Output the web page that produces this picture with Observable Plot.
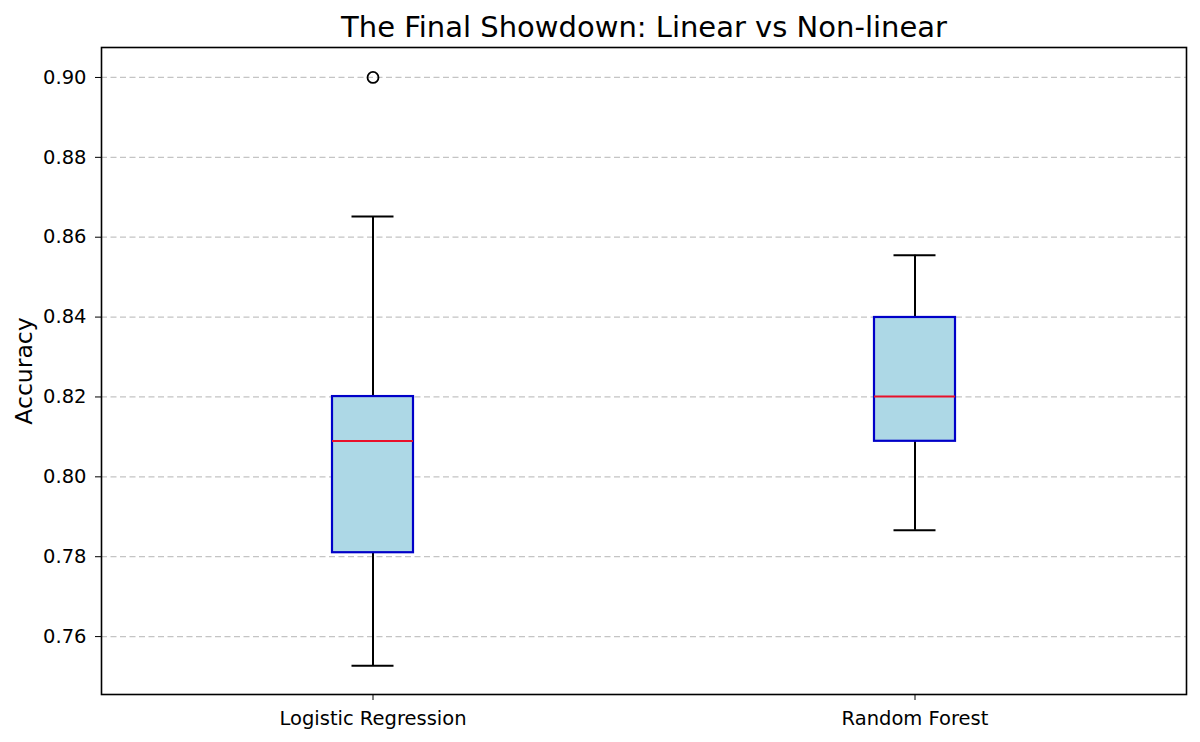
<!DOCTYPE html>
<html>
<head>
<meta charset="utf-8">
<script src="https://cdn.jsdelivr.net/npm/d3@7"></script>
<script src="https://cdn.jsdelivr.net/npm/@observablehq/plot@0.6"></script>
<style>
  html, body { margin: 0; padding: 0; background: #fff; }
  #chart { width: 1200px; height: 742px; }
</style>
</head>
<body>
<div id="chart"></div>
<script>
// Cross-validation accuracy summary for the two models
const models = ["Logistic Regression", "Random Forest"];
const whiskerLow = [0.7527, 0.7866];
const q1 = [0.7810, 0.8089];
const median = [0.8090, 0.8201];
const q3 = [0.8201, 0.8399];
const whiskerHigh = [0.8652, 0.8555];

// Points beyond the whiskers
const outlierModels = ["Logistic Regression"];
const outlierValues = [0.900];

const yTicks = [0.76, 0.78, 0.80, 0.82, 0.84, 0.86, 0.88, 0.90];

const boxes = models.map((m, i) => ({
  model: m, lo: whiskerLow[i], q1: q1[i], med: median[i], q3: q3[i], hi: whiskerHigh[i]
}));
const outliers = outlierModels.map((m, i) => ({ model: m, value: outlierValues[i] }));

const font = "DejaVu Sans, sans-serif";
const fmt = d3.format(".2f");

const chart = Plot.plot({
  width: 1200,
  height: 742,
  marginLeft: 101,
  marginRight: 14,
  marginTop: 47,
  marginBottom: 48,
  style: { fontFamily: font, fontSize: "19.5px", color: "#000", background: "#fff" },
  x: {
    type: "band",
    domain: models,
    paddingInner: 0.8507,
    paddingOuter: 0.4253,
    label: null
  },
  y: {
    domain: [0.7455, 0.9075],
    label: null
  },
  marks: [
    Plot.gridY(yTicks, { stroke: "#c4c4c4", strokeOpacity: 1, strokeWidth: 1.2, strokeDasharray: "6,3.5" }),
    // whiskers
    Plot.ruleX(boxes, { x: "model", y1: "lo", y2: "hi", stroke: "#000", strokeWidth: 2 }),
    // whisker caps
    Plot.tickY(boxes, { x: "model", y: "hi", stroke: "#000", strokeWidth: 2, insetLeft: 19.5, insetRight: 19.5 }),
    Plot.tickY(boxes, { x: "model", y: "lo", stroke: "#000", strokeWidth: 2, insetLeft: 19.5, insetRight: 19.5 }),
    // interquartile boxes
    Plot.barY(boxes, { x: "model", y1: "q1", y2: "q3", fill: "#add8e6", stroke: "#0000c8", strokeWidth: 2.2 }),
    // medians
    Plot.tickY(boxes, { x: "model", y: "med", stroke: "#e8102a", strokeWidth: 2 }),
    // outliers
    Plot.dot(outliers, { x: "model", y: "value", r: 5.5, stroke: "#000", strokeWidth: 1.8, fill: "none" }),
    Plot.frame({ stroke: "#000", strokeWidth: 1.6 }),
    Plot.axisX({ tickSize: 6, tickPadding: 11, fontSize: 19.5, label: null }),
    Plot.axisY({ ticks: yTicks, tickFormat: fmt, tickSize: 6, tickPadding: 9, fontSize: 19.5, label: null }),
    // y-axis title
    Plot.text(["Accuracy"], {
      frameAnchor: "left", textAnchor: "middle", lineAnchor: "middle",
      rotate: -90, dx: -77, fontSize: 23.5, fill: "#000"
    }),
    // chart title
    Plot.text(["The Final Showdown: Linear vs Non-linear"], {
      frameAnchor: "top", lineAnchor: "middle", dy: -20, fontSize: 29, fill: "#000"
    })
  ]
});

document.getElementById("chart").appendChild(chart);
</script>
</body>
</html>
